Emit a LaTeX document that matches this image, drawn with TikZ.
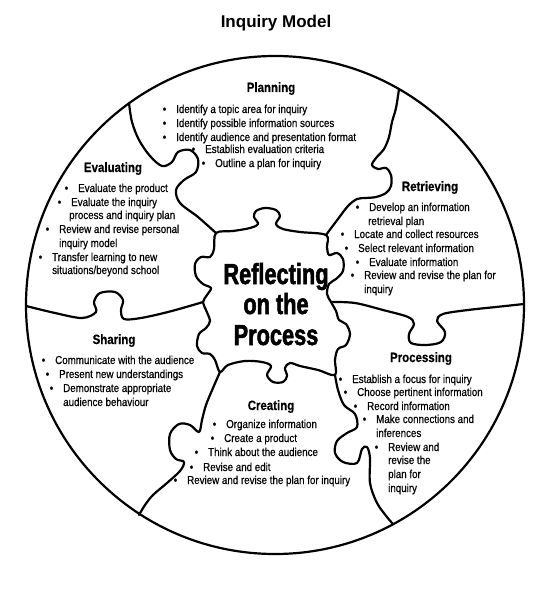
\documentclass[tikz,border=0pt]{standalone}
\usepackage{fontspec}
\setmainfont{Liberation Sans}[FakeStretch=0.85, RawFeature={embolden=0.5}]
\newfontfamily\titlefont{Liberation Sans}
\font\heavyfont="Liberation Sans Bold:extend=0.75;embolden=1.8" at 29pt
\newcommand\bu{\llap{\textbullet\hspace{10pt}}}
\begin{document}
\begin{tikzpicture}[x=1pt,y=-1pt,
  edge/.style={line width=2.2pt, line join=round, line cap=round},
  tx/.style={anchor=base west, inner sep=0pt, font=\fontsize{11.5}{13.5}\selectfont},
  hd/.style={anchor=base, inner sep=0pt, font=\fontsize{13.5}{16}\selectfont\bfseries},
  big/.style={anchor=base, inner sep=0pt, font=\heavyfont},
]
\useasboundingbox[fill=white] (0,0) rectangle (550,594);

% outer circle
\draw[edge] (275,305) circle[radius=249pt];

% centre piece
\draw[edge] plot[smooth cycle, tension=0.55] coordinates {
 (216,233) (233,231) (250,228) (258,224) (254,217) (256,211) (265,208) (276,210) (280,216) (276,224) (283,229) (300,232) (326,235)
 (327,247) (329,255) (337,253) (343,259) (343,271) (336,279) (329,284) (327,294) (331,302) (336,311) (339,320) (346,324) (350,334) (346,345) (338,349) (335,360) (335,375)
 (318,370) (300,366) (290,363) (285,368) (287,376) (283,382) (273,382) (267,375) (271,366) (262,362) (245,361) (228,365) (220,372)
 (215,360) (210,354) (202,353) (197,346) (199,334) (206,328) (210,321) (206,310) (203,302) (207,295) (211,288) (203,284) (196,276) (195,264) (201,257) (210,257) (214,249)};

% Planning / Evaluating
\draw[edge] plot[smooth, tension=0.55] coordinates {
 (129,103) (132,122) (139,140) (150,156) (162,166) (172,162) (178,152) (190,150) (198,159) (196,172) (184,180) (176,190) (180,203) (198,217) (216,233)};
% Planning / Retrieving
\draw[edge] plot[smooth, tension=0.55] coordinates {
 (399,89) (396,108) (392,122) (389,137) (384,149) (376,158) (372,165) (378,169) (386,168) (391,175) (391,186) (386,193) (376,197) (366,198) (357,199) (348,206) (338,219) (326,235)};
% Retrieving / Processing
\draw[edge] plot[smooth, tension=0.55] coordinates {
 (331,302) (355,303) (383,310) (408,317) (414,324) (409,334) (411,343) (426,345) (441,342) (445,332) (437,321) (443,314) (468,310) (496,307) (524,304)};
% Processing / Creating
\draw[edge] plot[smooth, tension=0.55] coordinates {
 (335,375) (338,390) (344,405) (355,414) (357,427) (347,433) (337,441) (335,453) (343,462) (357,463) (362,449) (367,447) (370,458) (370,483) (377,503) (387,517) (393,524)};
% Creating / Sharing
\draw[edge] plot[smooth, tension=0.55] coordinates {
 (220,372) (213,388) (206,405) (202,420) (199,432) (190,425) (179,424) (170,434) (170,450) (176,459) (184,462) (180,471) (167,483) (153,495) (145,505) (139,515)};
% Sharing / Evaluating
\draw[edge] plot[smooth, tension=0.55] coordinates {
 (26,306) (55,313) (82,318) (96,312) (94,302) (100,293) (115,292) (123,300) (121,310) (124,319) (141,318) (168,312) (193,305) (203,302)};

% title
\node[anchor=base, inner sep=0pt, font=\fontsize{17}{20}\titlefont\bfseries] (title) at (276,27.5) {Inquiry Model};

% centre text
\node[big] (cen1) at (276,284) {Reflecting};
\node[big] (cen2) at (276,314) {on the};
\node[big] (cen3) at (276,345) {Process};

% Planning
\node[hd] (hplan) at (271,92) {Planning};
\node[tx] (p1) at (176,113) {\bu Identify a topic area for inquiry};
\node[tx] (p2) at (176,127) {\bu Identify possible information sources};
\node[tx] (p3) at (176,141) {\bu Identify audience and presentation format};
\node[tx] (p4) at (205,153) {\bu Establish evaluation criteria};
\node[tx] (p5) at (215,167) {\bu Outline a plan for inquiry};

% Evaluating
\node[hd] (heval) at (113,172) {Evaluating};
\node[tx] (e1) at (78,192) {\bu Evaluate the product};
\node[tx] (e2) at (71,206) {\bu Evaluate the inquiry};
\node[tx] (e3) at (69,219) {process and inquiry plan};
\node[tx] (e4) at (59,233) {\bu Review and revise personal};
\node[tx] (e5) at (59,247) {inquiry model};
\node[tx] (e6) at (52,261) {\bu Transfer learning to new};
\node[tx] (e7) at (52,274) {situations/beyond school};

% Retrieving
\node[hd] (hretr) at (430,191) {Retrieving};
\node[tx] (r1) at (369,211) {\bu Develop an information};
\node[tx] (r2) at (368,225) {retrieval plan};
\node[tx] (r3) at (354,238) {\bu Locate and collect resources};
\node[tx] (r4) at (358,252) {\bu Select relevant information};
\node[tx] (r5) at (369,266) {\bu Evaluate information};
\node[tx] (r6) at (364,279) {\bu Review and revise the plan for};
\node[tx] (r7) at (364,293) {inquiry};

% Sharing
\node[hd] (hshar) at (114,344) {Sharing};
\node[tx] (s1) at (55,364) {\bu Communicate with the audience};
\node[tx] (s2) at (59,378) {\bu Present new understandings};
\node[tx] (s3) at (63,392) {\bu Demonstrate appropriate};
\node[tx] (s4) at (63,406) {audience behaviour};

% Processing
\node[hd] (hproc) at (421,362) {Processing};
\node[tx] (q1) at (352,383) {\bu Establish a focus for inquiry};
\node[tx] (q2) at (357,396) {\bu Choose pertinent information};
\node[tx] (q3) at (367,410) {\bu Record information};
\node[tx] (q4) at (376,423) {\bu Make connections and};
\node[tx] (q5) at (376,437) {inferences};
\node[tx] (q6) at (388,451) {\bu Review and};
\node[tx] (q7) at (388,464) {revise the};
\node[tx] (q8) at (388,478) {plan for};
\node[tx] (q9) at (388,492) {inquiry};

% Creating
\node[hd] (hcrea) at (271,410) {Creating};
\node[tx] (c1) at (226,428) {\bu Organize information};
\node[tx] (c2) at (224,442) {\bu Create a product};
\node[tx] (c3) at (208,456) {\bu Think about the audience};
\node[tx] (c4) at (203,471) {\bu Revise and edit};
\node[tx] (c5) at (187,484) {\bu Review and revise the plan for inquiry};
\end{tikzpicture}
\end{document}
